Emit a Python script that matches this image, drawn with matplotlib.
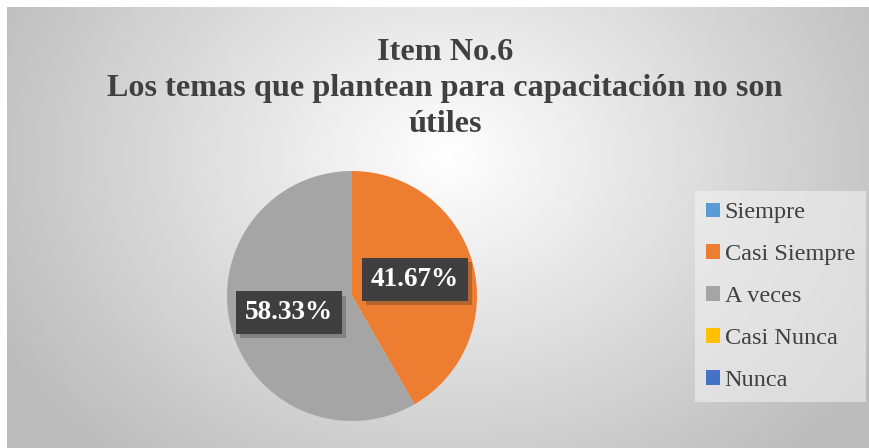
import numpy as np
import matplotlib
matplotlib.use("Agg")
import matplotlib.pyplot as plt
import matplotlib.patheffects as pe
from matplotlib.patches import Patch

categories = ["Siempre", "Casi Siempre", "A veces", "Casi Nunca", "Nunca"]
values = [0.0, 41.67, 58.33, 0.0, 0.0]
colors = ["#5B9BD5", "#ED7D31", "#A5A5A5", "#FFC000", "#4472C4"]
title = "Item No.6\nLos temas que plantean para capacitación no son\nútiles"

W, H = 870, 448
fig = plt.figure(figsize=(W / 100, H / 100), dpi=100)
fig.patch.set_facecolor("white")

# radial gradient background
bg = fig.add_axes([7 / W, 0, 1 - 7 / W, 1 - 7 / H])
bg.set_axis_off()
yy, xx = np.mgrid[0:441, 0:863]
cx, cy = 440, 150
d = np.sqrt(((xx - cx) / 500.0) ** 2 + ((yy - cy) / 400.0) ** 2)
d = np.clip(d, 0, 1)
val = 1.0 - 0.26 * d ** 1.0
img = np.dstack([val, val, val])
bg.imshow(img, aspect="auto", extent=[0, 1, 0, 1], interpolation="bilinear")
bg.set_xlim(0, 1)
bg.set_ylim(0, 1)

serif = ["Liberation Serif", "DejaVu Serif"]

fig.text(445 / W, 1 - 88.5 / H, title, ha="center", va="center",
         fontsize=23.2, fontweight="bold", family=serif, color="#404040",
         linespacing=1.3)

# pie
pcx, pcy, r = 352, 296, 125
ax = fig.add_axes([(pcx - r) / W, 1 - (pcy + r) / H, 2 * r / W, 2 * r / H])
ax.set_axis_off()

def fmt(p):
    return f"{p:.2f}%" if p > 0.01 else ""

wedges, texts, autotexts = ax.pie(values, colors=colors, startangle=90,
                                  counterclock=False, autopct=fmt,
                                  pctdistance=0.52, radius=1.0,
                                  wedgeprops=dict(linewidth=0))
for t in autotexts:
    t.set_color("white")
    t.set_fontsize(19.5)
    t.set_fontweight("bold")
    t.set_family(serif)
    if t.get_text():
        t.set_bbox(dict(boxstyle="square,pad=0.33", facecolor="#3f3f3f",
                        edgecolor="none", linewidth=0))
        t.get_bbox_patch().set_path_effects(
            [pe.SimplePatchShadow(offset=(3, -3), alpha=0.3, shadow_rgbFace="#303030"),
             pe.Normal()])
ax.set_xlim(-1, 1)
ax.set_ylim(-1, 1)
ax.set_aspect("equal")

handles = [Patch(facecolor=c, edgecolor="none") for c in colors]
leg = fig.legend(handles, categories, loc="upper left",
                 bbox_to_anchor=(695 / W, 1 - 191 / H),
                 prop={"family": serif, "size": 17.5},
                 frameon=True, fancybox=False, labelspacing=0.86,
                 handlelength=0.55, handleheight=0.55, handletextpad=0.2,
                 borderpad=0.47, borderaxespad=0, labelcolor="#404040")
fr = leg.get_frame()
fr.set_facecolor("#f4f4f4")
fr.set_alpha(0.55)
fr.set_edgecolor("none")

fig.savefig("out.png", dpi=100)
